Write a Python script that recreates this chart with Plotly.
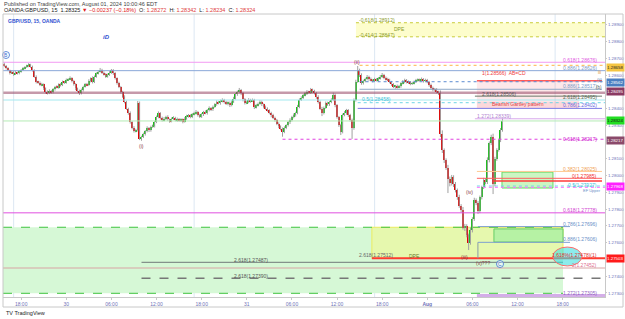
import plotly.graph_objects as go
import pandas as pd

# ------------------------------------------------------------------ data
bar_start = "2024-07-29 15:30"          # first 15-minute bar
first_open = 1675                         # price = 1.27 + v/100000
close_pts = [
    1668, 1655, 1640, 1628, 1612, 1618, 1605, 1615, 1610, 1622, 1630, 1640, 1648, 1655, 1662, 1650, 1630, 1590, 1560, 1555,
    1540, 1545, 1520, 1500, 1492, 1505, 1498, 1515, 1530, 1525, 1545, 1540, 1560, 1555, 1570, 1575, 1582, 1565, 1545, 1520,
    1505, 1490, 1510, 1530, 1545, 1540, 1565, 1580, 1560, 1590, 1610, 1620, 1632, 1615, 1605, 1590, 1600, 1615, 1630, 1610,
    1580, 1552, 1530, 1500, 1470, 1440, 1400, 1375, 1320, 1285, 1265, 1272, 1433, 1218, 1232, 1248, 1265, 1284, 1270, 1290,
    1296, 1320, 1350, 1373, 1345, 1330, 1340, 1352, 1335, 1325, 1340, 1345, 1330, 1338, 1328, 1335, 1322, 1340, 1355, 1360,
    1350, 1365, 1372, 1381, 1362, 1351, 1365, 1380, 1372, 1390, 1403, 1395, 1410, 1425, 1440, 1432, 1445, 1451, 1440, 1428,
    1435, 1421, 1440, 1460, 1485, 1500, 1511, 1490, 1455, 1433, 1440, 1452, 1445, 1451, 1409, 1420, 1430, 1441, 1425, 1410,
    1400, 1391, 1375, 1360, 1345, 1332, 1310, 1295, 1280, 1262, 1285, 1300, 1318, 1332, 1350, 1362, 1373, 1410, 1451, 1465,
    1480, 1490, 1500, 1495, 1511, 1505, 1493, 1470, 1440, 1400, 1373, 1405, 1433, 1425, 1440, 1451, 1481, 1420, 1350, 1300,
    1262, 1362, 1375, 1391, 1360, 1332, 1284, 1450, 1560, 1630, 1600, 1552, 1565, 1575, 1588, 1575, 1570, 1565, 1575, 1570,
    1580, 1590, 1600, 1585, 1575, 1570, 1560, 1545, 1530, 1535, 1528, 1532, 1550, 1560, 1570, 1560, 1555, 1548, 1552, 1560,
    1568, 1572, 1570, 1575, 1565, 1570, 1560, 1540, 1525, 1511, 1515, 1500, 1493, 1250, 1150, 1093, 1046, 980, 956, 992,
    950, 914, 872, 820, 795, 690, 700, 646, 600, 676, 740, 854, 836, 788, 872, 930, 973, 960, 1093, 1194,
    1230, 950, 1100, 1153, 1212, 1272, 1324,
]
wick_up = [
    8, 6, 5, 7, 4, 9, 6, 8, 5, 7, 6, 8, 5, 7, 9, 5, 6, 4, 8, 6,
    7, 9, 5, 6, 8, 10, 6, 7, 5, 9, 6, 8, 7, 5, 9, 6, 10, 5, 6, 7,
    5, 8, 9, 6, 7, 8, 10, 6, 12, 7, 6, 8, 10, 5, 7, 6, 9, 8, 6, 5,
    7, 6, 8, 5, 6, 9, 7, 5, 8, 6, 10, 7, 12, 9, 6, 8, 7, 10, 6, 8,
    9, 7, 8, 10, 6, 7, 9, 5, 8, 6, 7, 9, 6, 8, 5, 7, 6, 9, 8, 7,
    6, 8, 9, 10, 5, 7, 8, 6, 9, 7, 10, 6, 8, 7, 9, 6, 8, 10, 7, 6,
    8, 7, 9, 10, 8, 7, 12, 6, 9, 7, 8, 10, 6, 9, 7, 8, 6, 9, 7, 6,
    8, 7, 5, 6, 9, 7, 6, 8, 5, 7, 9, 6, 8, 10, 7, 9, 8, 12, 10, 8,
    7, 9, 10, 6, 12, 8, 7, 6, 9, 8, 10, 7, 9, 8, 6, 10, 14, 8, 7, 6,
    9, 8, 10, 7, 6, 9, 8, 10, 12, 24, 8, 10, 7, 9, 12, 8, 10, 7, 9, 6,
    8, 10, 12, 7, 6, 9, 8, 5, 7, 6, 8, 9, 7, 10, 8, 6, 7, 9, 8, 7,
    9, 8, 7, 10, 6, 8, 7, 5, 9, 6, 8, 7, 6, 15, 20, 12, 10, 18, 14, 12,
    10, 12, 9, 14, 10, 18, 12, 10, 8, 15, 12, 14, 10, 12, 9, 10, 14, 12, 16, 10,
    14, 20, 12, 10, 8, 12, 18,
]
wick_dn = [
    6, 8, 7, 5, 9, 6, 10, 5, 7, 6, 8, 5, 7, 6, 8, 7, 9, 6, 10, 8,
    6, 7, 9, 10, 8, 6, 9, 7, 8, 5, 7, 9, 6, 8, 7, 6, 5, 9, 8, 10,
    7, 9, 6, 8, 5, 7, 6, 9, 10, 8, 6, 7, 5, 9, 8, 7, 6, 5, 8, 9,
    7, 9, 8, 10, 7, 9, 8, 12, 10, 9, 8, 7, 9, 6, 10, 8, 9, 7, 10, 8,
    6, 9, 7, 8, 10, 7, 6, 9, 8, 10, 7, 8, 6, 9, 7, 8, 10, 6, 7, 9,
    8, 7, 6, 9, 10, 8, 7, 9, 6, 8, 7, 10, 9, 6, 8, 7, 9, 8, 10, 7,
    9, 12, 8, 7, 6, 9, 8, 10, 12, 9, 7, 8, 10, 6, 12, 9, 8, 7, 10, 9,
    8, 10, 9, 12, 8, 10, 9, 12, 10, 30, 9, 8, 7, 10, 9, 8, 10, 7, 8, 6,
    8, 7, 9, 6, 8, 10, 9, 12, 10, 9, 18, 8, 7, 10, 9, 8, 7, 12, 10, 9,
    20, 10, 8, 12, 10, 9, 65, 10, 8, 7, 12, 10, 9, 8, 7, 10, 8, 9, 7, 8,
    9, 7, 8, 10, 8, 7, 9, 10, 8, 12, 9, 7, 8, 6, 9, 10, 8, 9, 7, 8,
    7, 9, 8, 6, 10, 8, 9, 10, 12, 8, 9, 10, 12, 20, 15, 18, 12, 84, 20, 15,
    18, 14, 16, 12, 15, 12, 20, 14, 44, 12, 15, 10, 12, 16, 12, 14, 10, 12, 10, 14,
    12, 60, 14, 12, 10, 12, 10,
]

x_tick_times = ["2024-07-29 18:00", "2024-07-30 00:00", "2024-07-30 06:00", "2024-07-30 12:00",
                "2024-07-30 18:00", "2024-07-31 00:00", "2024-07-31 06:00", "2024-07-31 12:00",
                "2024-07-31 18:00", "2024-08-01 00:00", "2024-08-01 06:00", "2024-08-01 12:00",
                "2024-08-01 18:00"]
x_tick_text = ["18:00", "30", "06:00", "12:00", "18:00", "31", "06:00", "12:00", "18:00",
               "<b>Aug</b>", "06:00", "12:00", "18:00"]
y_tick_vals = [1.273, 1.274, 1.276, 1.277, 1.278, 1.279, 1.280, 1.281, 1.283, 1.284,
               1.286, 1.287, 1.288, 1.289]
session_breaks = ["2024-07-29 17:00", "2024-07-30 17:00", "2024-07-31 17:00", "2024-08-01 17:00"]

x_view = ["2024-07-29 15:35", "2024-08-01 23:38"]
y_view = [1.27276, 1.28964]

# horizontal drawing levels (price, from, to)
L, R = x_view
level_price = [1.28676, 1.28658, 1.28626, 1.28566, 1.28560, 1.28515, 1.28495, 1.28474, 1.28451,
               1.28435, 1.28401, 1.28339, 1.28326, 1.28217, 1.28025, 1.27984, 1.27968, 1.27938,
               1.27930, 1.27778, 1.27696, 1.27602, 1.27507, 1.27483, 1.27449, 1.27388, 1.27285]
level_from = [L, "2024-07-31 15:00", L, "2024-08-01 06:36", "2024-07-31 15:00", "2024-07-31 15:00", L,
              "2024-08-01 06:20", L, "2024-07-31 14:45", "2024-07-31 14:45", "2024-08-01 06:20", L,
              "2024-07-31 04:45", "2024-08-01 06:36", "2024-08-01 06:36", "2024-08-01 08:44",
              "2024-08-01 06:36", "2024-08-01 06:36", L, "2024-08-01 06:44", "2024-08-01 06:44",
              "2024-07-31 16:38", "2024-07-30 10:00", L, "2024-07-30 10:00", "2024-08-01 06:36"]
level_to = [R, R, R, "2024-08-01 23:14", R, "2024-08-01 23:14", R, "2024-08-01 23:14", R, R,
            "2024-08-01 23:14", R, R, R, "2024-08-01 23:14", "2024-08-01 23:14", "2024-08-01 23:14",
            R, R, R, "2024-08-01 18:59", "2024-08-01 18:59", R, "2024-08-01 18:03", R, R, R]

# zones (from, to, low, high)
zone_from = ["2024-07-31 14:31", "2024-08-01 06:36", "2024-08-01 06:36", L, "2024-07-31 16:38",
             "2024-08-01 08:52", "2024-08-01 09:56"]
zone_to = [R, "2024-08-01 20:11", "2024-08-01 20:11", "2024-08-01 18:03", "2024-08-01 18:03",
           "2024-08-01 18:03", "2024-08-01 16:43"]
zone_lo = [1.28828, 1.28401, 1.28401, 1.27298, 1.27507, 1.27604, 1.27926]
zone_hi = [1.28912, 1.28566, 1.28440, 1.27692, 1.27692, 1.27682, 1.28021]

tag_price_text = ["1.28658", "1.28562", "1.28495", "1.28324", "1.28217", "1.27968", "1.27503"]

# ------------------------------------------------------------------ styles
level_color = ["#f29af2", "#ffb347", "#8aa8d8", "#ff5a5a", "#5b8bd0", "#8ea8c8", "rgba(150,70,100,0.55)",
               "#6a7a6a", "#a3e9f0", "#6fd6e6", "#7a7ae6", "#d8a8ec", "#b4ebb4", "#e040e0", "#ffc890",
               "#ff6060", "#ff3a3a", "#70d8e8", "#ff70ff", "#e050e0", "#7e9fd0", "#7e9fd0", "#ff3b30",
               "#707878", "#d8a4a4", "#777777", "#d4aee8"]
level_width = [1, 1, 1, 1.5, 1, 1, 2.5, 1, 1, 1, 1, 1, 1, 1, 1, 1, 1.5, 1, 1, 1, 1, 1, 2, 1, 1, 1.5, 3]
level_dash = ["solid", "dot", "solid", "solid", "dot", "solid", "solid", "solid", "solid", "dot", "solid",
              "solid", "solid", "dot", "solid", "solid", "solid", "dot", "dot", "solid", "solid", "solid",
              "solid", "solid", "solid", "dash", "solid"]
zone_fill = ["#fdfdcc", "rgba(242,80,90,0.13)", "rgba(242,80,90,0.10)", "#d6f8d6", "#e6f8ae", "#b6f2a4",
             "rgba(140,235,120,0.45)"]
zone_line = ["rgba(0,0,0,0)", "rgba(0,0,0,0)", "rgba(0,0,0,0)", "rgba(0,0,0,0)", "#ecec60", "#66cc66", "#66d966"]
tag_bg = ["#f5c542", "#4a7fc1", "#8b3a62", "#22dd22", "#8b4a6b", "#ff22ff", "#ff1a1a"]
tag_fg = ["#222", "white", "white", "#111", "white", "white", "white"]

UP, DOWN, WICK = "#16c016", "#e00000", "#a0a0a0"
FONT = "Liberation Sans"

# plot area in pixels: x 3..605, y 14..297
PL, PR, PT, PB = 3, 605, 14, 297


def P(xp, yp):
    return (xp - PL) / (PR - PL), (PB - yp) / (PB - PT)


# ------------------------------------------------------------------ candles
times = pd.date_range(bar_start, periods=len(close_pts), freq="15min")
c = [1.27 + v / 1e5 for v in close_pts]
o = [1.27 + first_open / 1e5] + c[:-1]
hi = [max(a, b) + u / 1e5 for a, b, u in zip(o, c, wick_up)]
lo = [min(a, b) - d / 1e5 for a, b, d in zip(o, c, wick_dn)]

fig = go.Figure()
wx, wy = [], []
for t, h, l in zip(times, hi, lo):
    wx += [t, t, None]
    wy += [l, h, None]
fig.add_trace(go.Scatter(x=wx, y=wy, mode="lines", line=dict(color=WICK, width=1),
                         hoverinfo="skip", showlegend=False))
fig.add_trace(go.Bar(x=times, y=[max(abs(b - a), 0.00002) for a, b in zip(o, c)],
                     base=[min(a, b) for a, b in zip(o, c)],
                     marker=dict(color=[UP if b >= a else DOWN for a, b in zip(o, c)], line=dict(width=0)),
                     width=15 * 60 * 1000 * 0.72, showlegend=False, hoverinfo="skip"))

shapes = []
# session separators
for t in session_breaks:
    shapes.append(dict(type="line", xref="x", yref="paper", x0=t, x1=t, y0=0, y1=1,
                       line=dict(color="#dce7f3", width=1), layer="below"))
# zones
for f, tt, lo_, hi_, fc, lc in zip(zone_from, zone_to, zone_lo, zone_hi, zone_fill, zone_line):
    shapes.append(dict(type="rect", xref="x", yref="y", x0=f, x1=tt, y0=lo_, y1=hi_,
                       fillcolor=fc, line=dict(color=lc, width=1), layer="below"))
# dotted borders of the top yellow zone and dashed borders of big green zone
for yv in (zone_lo[0], zone_hi[0]):
    shapes.append(dict(type="line", xref="x", yref="y", x0=zone_from[0], x1=zone_to[0], y0=yv, y1=yv,
                       line=dict(color="#c9cc3a", width=1, dash="dot"), layer="below"))
for yv in (zone_lo[3], zone_hi[3]):
    shapes.append(dict(type="line", xref="x", yref="y", x0=zone_from[3], x1=zone_to[3], y0=yv, y1=yv,
                       line=dict(color="#3fc43f", width=1, dash="dash"), layer="below"))
# levels
for p, f, tt, col, w, d in zip(level_price, level_from, level_to, level_color, level_width, level_dash):
    shapes.append(dict(type="line", xref="x", yref="y", x0=f, x1=tt, y0=p, y1=p,
                       line=dict(color=col, width=w, dash=d)))
# vertical helper line of fib box
shapes.append(dict(type="line", xref="x", yref="y", x0="2024-08-01 06:44", x1="2024-08-01 06:44",
                   y0=1.27507, y1=1.27602, line=dict(color="#8a9aa8", width=1)))
# ellipse target
shapes.append(dict(type="circle", xref="x", yref="y", x0="2024-08-01 16:42", x1="2024-08-01 20:33",
                   y0=1.27461, y1=1.27574, fillcolor="rgba(64,224,224,0.6)",
                   line=dict(color="#ff6b6b", width=1)))
# circles for B and C
for xp, yp in ((6, 55), (500, 264)):
    px0, py0 = P(xp - 3.5, yp + 3.5)
    px1, py1 = P(xp + 3.5, yp - 3.5)
    shapes.append(dict(type="circle", xref="paper", yref="paper", x0=px0, x1=px1, y0=py0, y1=py1,
                       line=dict(color="#3b6fd0", width=0.8), fillcolor="rgba(255,255,255,0.6)"))
# outer frame
fx0, fy0 = P(3, 307)
fx1, fy1 = P(623, 14)
shapes.append(dict(type="rect", xref="paper", yref="paper", x0=fx0, x1=fx1, y0=fy0, y1=fy1,
                   line=dict(color="#c8c8c8", width=1), fillcolor="rgba(0,0,0,0)"))

ann = []


def txt(s, xp, yp, color, size=5, xanchor="left", bold=False):
    ax, ay = P(xp, yp)
    ann.append(dict(text=("<b>%s</b>" % s) if bold else s, x=ax, y=ay, xref="paper", yref="paper",
                    xanchor=xanchor, yanchor="middle", showarrow=False,
                    font=dict(family=FONT, size=size, color=color)))


# header
txt("Published on TradingView.com, August 01, 2024 10:00:46 EDT", 2, 4, "#444", 5.5)
txt("OANDA:GBPUSD, 15  1.28325 <span style='color:#e02020'>▼ −0.00237 (−0.18%)</span>  O: "
    "<span style='color:#e04040'>1.28272</span>  H: <span style='color:#e04040'>1.28342</span>  L: "
    "<span style='color:#e04040'>1.28234</span>  C: <span style='color:#e04040'>1.28324</span>",
    2, 10.5, "#222", 5.5)
txt("GBP/USD, 15, OANDA", 6, 21, "#3050d0", 5, bold=True)
txt("<i>iD</i>", 101, 37, "#3050d0", 6, bold=True)
txt("B", 6, 55, "#3b6fd0", 5, xanchor="center")
txt("C", 500, 264, "#3b6fd0", 5, xanchor="center")
txt("TV TradingView", 4, 313, "#222", 5.5)

# wave labels
for s, xp, yp in (("(i)", 141, 146), ("(ii)", 357, 62), ("(iii)", 464, 257), ("(iv)", 469, 192),
                  ("(v)???", 483, 263)):
    txt(s, xp, yp, "#8b3a3a", 5, xanchor="center")

# drawing labels (left aligned)
olive = "#8a9a2a"
txt("-0.618(1.28912)", 357, 20, olive)
txt("DPE", 392, 29, olive)
txt("-0.414(1.28847)", 357, 35, olive)
txt("1(1.28566)  AB=CD", 480, 73, "#f03a3a")
txt("2.618(1.28506)", 480, 94, "#555")
txt("Bearish Gartley pattern", 490, 104, "#e04040")
txt("0.5(1.28458)", 360, 99, "#40c0d8")
txt("1.272(1.28339)", 475, 116, "#b080d0")
txt("2.618(1.27512)", 357, 255, "#666")
txt("DPE", 407, 255.5, "#6a7a2a")
txt("2.618(1.27487)", 232, 259.5, "#555")
txt("2.618(1.27390)", 232, 275.5, "#555")

# right side fib labels (right aligned)
for s, yp, col in (("0.618(1.28676)", 60, "#e055e0"), ("0.886(1.28626)", 68, "#7b9bc8"),
                   ("0.886(1.28517)", 86, "#7b9bc8"), ("2.618(1.28495)", 97, "#556b55"),
                   ("0.786(1.28402)", 104.5, "#6a6ae0"), ("0.618(1.28217)", 138.5, "#d020d0"),
                   ("0.382(1.28025)", 169, "#f0a050"), ("0(1.27985)", 175.5, "#f03030"),
                   ("0.5(1.27927)", 185, "#40c0d8"), ("0.618(1.27778)", 210, "#d040d0"),
                   ("0.786(1.27696)", 224, "#6a8fc8"), ("0.886(1.27606)", 239, "#6a8fc8"),
                   ("1.618%(1.27478)(1)", 255, "#e03030"), ("2(1.27452)", 265, "#e07090"),
                   ("1.272(1.27305)", 293, "#9060c0")):
    txt(s, 599, yp, col, 5, xanchor="right")
txt("iii", 603, 72, "#e0a030", 4.5, xanchor="right")
txt("(ii)", 604, 80, "#6080b0", 4.5, xanchor="right")
txt("(b)", 604, 88, "#555", 4.5, xanchor="right")
txt("EF Upper", 603, 190, "#6a8fc8", 4, xanchor="right")

# price tags on the axis
tag_y = [67, 82, 91, 120, 140, 186, 258]
for s, yp, bg, fg in zip(tag_price_text, tag_y, tag_bg, tag_fg):
    ax, ay = P(606, yp)
    ann.append(dict(text=s, x=ax, y=ay, xref="paper", yref="paper", xanchor="left", yanchor="middle",
                    showarrow=False, bgcolor=bg, width=16, height=6, borderpad=0.3,
                    font=dict(family=FONT, size=4.4, color=fg)))

fig.update_layout(
    template="none",
    width=625, height=319,
    margin=dict(l=PL, r=625 - PR, t=PT, b=319 - PB, pad=0),
    paper_bgcolor="white", plot_bgcolor="white",
    showlegend=False, bargap=0,
    shapes=shapes, annotations=ann,
    xaxis=dict(type="date", range=x_view, tickmode="array", tickvals=x_tick_times, ticktext=x_tick_text,
               showgrid=False, zeroline=False, showline=True, linecolor="#c8c8c8", linewidth=1,
               ticks="outside", ticklen=2, tickcolor="#c8c8c8", automargin=False,
               tickfont=dict(family=FONT, size=5, color="#6f73b8"), rangeslider=dict(visible=False)),
    yaxis=dict(side="right", range=y_view, tickmode="array", tickvals=y_tick_vals,
               ticktext=["%.5f" % v for v in y_tick_vals], showgrid=False, zeroline=False,
               showline=True, linecolor="#c8c8c8", linewidth=1, ticks="outside", ticklen=1,
               tickcolor="#c8c8c8", automargin=False,
               tickfont=dict(family=FONT, size=4.4, color="#6f73b8")),
)

fig.write_html("out.html")
